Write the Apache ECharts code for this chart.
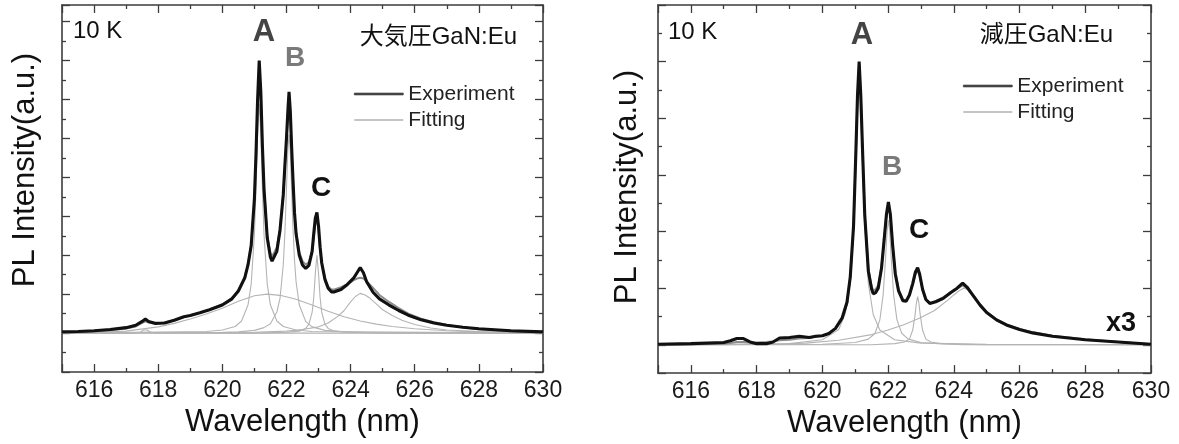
<!DOCTYPE html>
<html>
<head>
<meta charset="utf-8">
<script src="https://cdn.jsdelivr.net/npm/echarts@6/dist/echarts.min.js"></script>
<style>
  html, body { margin: 0; padding: 0; background: #fff; }
  #main { width: 1179px; height: 444px; }
</style>
</head>
<body>
<div id="main"></div>
<script>
// 左: 大気圧GaN:Eu  (PL スペクトル, 10 K)
var leftX = [615, 615.5, 616, 616.5, 617, 617.3, 617.5, 617.6, 617.7, 617.9,
  618.2, 618.5, 618.8, 619, 619.3, 619.6, 620, 620.3, 620.5, 620.7,
  620.8, 620.9, 621, 621.05, 621.1, 621.15, 621.2, 621.25, 621.3, 621.4,
  621.5, 621.55, 621.6, 621.7, 621.8, 621.9, 621.95, 622, 622.05, 622.08,
  622.12, 622.16, 622.2, 622.25, 622.3, 622.4, 622.5, 622.6, 622.7, 622.8,
  622.85, 622.9, 622.95, 623, 623.05, 623.1, 623.2, 623.3, 623.4, 623.5,
  623.7, 623.9, 624.1, 624.2, 624.3, 624.4, 624.5, 624.7, 624.9, 625.2,
  625.5, 625.8, 626.2, 626.6, 627, 627.5, 628, 629, 630];
var leftExp = [0.03, 0.04, 0.06, 0.09, 0.14, 0.2, 0.3, 0.36, 0.3, 0.25,
  0.26, 0.33, 0.42, 0.45, 0.52, 0.6, 0.72, 0.88, 1.08, 1.42,
  1.75, 2.25, 3.45, 4.6, 6.0, 7.0, 6.2, 4.8, 3.7, 2.45,
  1.95, 1.85, 1.87, 2.1, 2.65, 3.55, 4.3, 5.0, 5.8, 6.2,
  5.7, 4.8, 4.0, 3.1, 2.55, 2.0, 1.75, 1.66, 1.74, 2.1,
  2.55, 2.95, 3.1, 2.75, 2.2, 1.8, 1.38, 1.15, 1.06, 1.06,
  1.12, 1.25, 1.42, 1.55, 1.68, 1.55, 1.32, 1.05, 0.88, 0.72,
  0.58, 0.46, 0.34, 0.26, 0.2, 0.15, 0.11, 0.06, 0.03];
var leftFit = [0.02, 0.03, 0.05, 0.08, 0.12, 0.17, 0.26, 0.3, 0.27, 0.24,
  0.27, 0.33, 0.41, 0.45, 0.52, 0.6, 0.74, 0.9, 1.1, 1.45,
  1.75, 2.25, 3.4, 4.5, 5.9, 6.85, 6.1, 4.75, 3.7, 2.5,
  2.05, 1.97, 1.98, 2.2, 2.7, 3.55, 4.25, 4.95, 5.7, 6.05,
  5.6, 4.75, 3.95, 3.1, 2.6, 2.08, 1.85, 1.76, 1.82, 2.1,
  2.45, 2.8, 2.95, 2.65, 2.15, 1.8, 1.4, 1.2, 1.12, 1.12,
  1.18, 1.26, 1.36, 1.4, 1.42, 1.4, 1.33, 1.16, 0.98, 0.8,
  0.64, 0.5, 0.37, 0.28, 0.21, 0.15, 0.1, 0.05, 0.02];

// 左: フィッティング成分
var leftAX = [615, 619.5, 620, 620.4, 620.6, 620.8, 620.9, 621, 621.05, 621.1, 621.15,
  621.2, 621.25, 621.3, 621.4, 621.5, 621.7, 621.9, 622.3, 622.8, 630];
var leftAY = [0, 0.04, 0.08, 0.17, 0.31, 0.72, 1.26, 2.53, 3.71, 5.14, 5.9,
  5.14, 3.71, 2.53, 1.26, 0.72, 0.31, 0.17, 0.08, 0.04, 0];
var leftBX = [615, 620, 620.5, 621, 621.3, 621.5, 621.7, 621.8, 621.9, 621.95, 622, 622.04, 622.08,
  622.12, 622.16, 622.2, 622.25, 622.3, 622.4, 622.6, 622.8, 623.2, 623.8, 624.5, 630];
var leftBY = [0, 0.02, 0.03, 0.07, 0.14, 0.24, 0.54, 0.9, 1.75, 2.55, 3.7, 4.66, 5.1,
  4.66, 3.7, 2.75, 1.88, 1.32, 0.72, 0.3, 0.16, 0.07, 0.03, 0.015, 0];
var leftCX = [615, 621, 622, 622.4, 622.6, 622.7, 622.8, 622.85, 622.9, 622.95,
  623, 623.05, 623.1, 623.2, 623.3, 623.5, 624, 625, 630];
var leftCY = [0, 0, 0.02, 0.05, 0.12, 0.23, 0.53, 0.9, 1.53, 2.0,
  1.53, 0.9, 0.53, 0.23, 0.12, 0.05, 0.02, 0, 0];
var leftBroadX = [615, 617, 618, 618.5, 619, 619.5, 620, 620.5, 621, 621.4, 621.8,
  622.3, 622.8, 623.3, 623.8, 624.3, 624.8, 625.3, 626, 627, 628, 630];
var leftBroadY = [0, 0.05, 0.16, 0.25, 0.36, 0.49, 0.64, 0.82, 0.96, 1.0, 0.97,
  0.87, 0.72, 0.56, 0.42, 0.31, 0.23, 0.17, 0.11, 0.06, 0.03, 0.01];
var leftDX = [615, 621, 622, 622.5, 623, 623.3, 623.6, 623.8, 624, 624.15, 624.3, 624.45,
  624.6, 624.8, 625, 625.3, 625.6, 626, 626.5, 627, 628, 629, 630];
var leftDY = [0, 0.02, 0.05, 0.09, 0.16, 0.26, 0.43, 0.58, 0.8, 0.94, 1.02, 0.98,
  0.9, 0.75, 0.6, 0.45, 0.33, 0.22, 0.13, 0.08, 0.04, 0.02, 0.01];
var leftSmallX = [615, 617.3, 617.45, 617.55, 617.6, 617.65, 617.75, 617.9, 630];
var leftSmallY = [0, 0, 0.03, 0.08, 0.1, 0.08, 0.03, 0, 0];

// 右: 減圧GaN:Eu
var rightX = [615, 616, 617, 617.2, 617.4, 617.6, 617.8, 618, 618.3, 618.5,
  618.7, 619, 619.3, 619.6, 619.8, 620, 620.2, 620.4, 620.6, 620.75,
  620.85, 620.95, 621.02, 621.07, 621.12, 621.17, 621.22, 621.29, 621.4, 621.5,
  621.55, 621.62, 621.7, 621.8, 621.88, 621.95, 622.01, 622.07, 622.14, 622.22,
  622.32, 622.45, 622.55, 622.65, 622.75, 622.83, 622.9, 622.96, 623.05, 623.15,
  623.27, 623.45, 623.68, 623.9, 624.1, 624.27, 624.4, 624.6, 624.8, 625,
  625.3, 625.6, 626, 626.4, 627, 628, 629, 630];
var rightExp = [0.01, 0.02, 0.04, 0.07, 0.11, 0.11, 0.05, 0.02, 0.02, 0.05,
  0.12, 0.13, 0.15, 0.13, 0.15, 0.16, 0.2, 0.29, 0.47, 0.75,
  1.2, 2.1, 3.4, 4.4, 5.0, 4.4, 3.5, 2.3, 1.3, 0.98,
  0.9, 0.92, 1.0, 1.35, 1.85, 2.3, 2.52, 2.3, 1.75, 1.25,
  0.95, 0.78, 0.77, 0.88, 1.08, 1.28, 1.36, 1.25, 0.98, 0.8,
  0.73, 0.76, 0.82, 0.92, 1.0, 1.09, 1.02, 0.86, 0.7, 0.57,
  0.44, 0.35, 0.27, 0.21, 0.15, 0.09, 0.05, 0.01];
var rightFit = [0.0, 0.01, 0.02, 0.03, 0.05, 0.05, 0.04, 0.04, 0.05, 0.06,
  0.08, 0.09, 0.11, 0.12, 0.14, 0.16, 0.2, 0.28, 0.45, 0.72,
  1.18, 2.1, 3.38, 4.35, 4.95, 4.4, 3.45, 2.3, 1.35, 1.03,
  0.96, 0.98, 1.05, 1.38, 1.85, 2.28, 2.48, 2.28, 1.75, 1.28,
  0.98, 0.8, 0.78, 0.87, 1.06, 1.24, 1.32, 1.22, 0.97, 0.8,
  0.74, 0.77, 0.84, 0.92, 0.99, 1.05, 1.0, 0.87, 0.71, 0.58,
  0.45, 0.36, 0.28, 0.22, 0.16, 0.1, 0.05, 0.01];

var rightAX = [615, 619, 620, 620.5, 620.7, 620.85, 620.95, 621.02, 621.07, 621.12,
  621.17, 621.22, 621.29, 621.4, 621.55, 621.75, 622.2, 623, 625, 630];
var rightAY = [0, 0.02, 0.09, 0.27, 0.55, 1.14, 2.12, 3.36, 4.37, 4.85,
  4.37, 3.36, 2.12, 1.08, 0.53, 0.26, 0.09, 0.03, 0.01, 0];
var rightBX = [615, 620, 621, 621.4, 621.6, 621.75, 621.85, 621.92, 621.97, 622.01,
  622.05, 622.1, 622.17, 622.27, 622.42, 622.62, 623, 623.5, 625, 630];
var rightBY = [0, 0.01, 0.04, 0.1, 0.2, 0.44, 0.88, 1.49, 2.01, 2.2,
  2.01, 1.49, 0.88, 0.44, 0.2, 0.1, 0.04, 0.02, 0, 0];
var rightCX = [615, 621.5, 622.2, 622.5, 622.65, 622.75, 622.82, 622.86, 622.9,
  622.94, 622.98, 623.05, 623.15, 623.3, 623.6, 624.3, 630];
var rightCY = [0, 0, 0.02, 0.05, 0.1, 0.26, 0.52, 0.73, 0.85,
  0.73, 0.52, 0.26, 0.1, 0.05, 0.02, 0, 0];
var rightDX = [615, 617, 618.5, 619.5, 620.5, 621.5, 622, 622.5, 623, 623.4, 623.8, 624, 624.15,
  624.3, 624.45, 624.6, 624.8, 625, 625.3, 625.6, 626, 626.5, 627, 628, 629, 630];
var rightDY = [0, 0, 0.01, 0.03, 0.08, 0.18, 0.26, 0.36, 0.48, 0.6, 0.78, 0.88, 0.95,
  1.0, 0.97, 0.86, 0.68, 0.55, 0.42, 0.34, 0.27, 0.2, 0.15, 0.09, 0.05, 0.01];

var FONT = '"Liberation Sans", Arial, Helvetica, sans-serif';
var FONT_JP = '"Liberation Sans", Arial, "Noto Sans CJK JP", sans-serif';
var FRAME = '#3c3c3c';

function zip(xs, ys) {
    return xs.map(function(x, i) { return [x, ys[i]]; });
}

// 曲線 (symbol無しの折れ線)
function curve(name, xs, ys, gi, color, width) {
    return {
        name: name,
        type: 'line',
        xAxisIndex: gi * 2,
        yAxisIndex: gi * 2,
        data: zip(xs, ys),
        symbol: 'none',
        silent: true,
        lineStyle: { color: color, width: width },
        itemStyle: { color: color },
        emphasis: { disabled: true },
        z: width > 2 ? 5 : 3
    };
}

function xAxisOf(gi, pos) {
    var bottom = pos === 'bottom';
    return {
        type: 'value',
        gridIndex: gi,
        position: pos,
        min: 615,
        max: 630,
        splitNumber: 7,
        axisLine: { show: true, onZero: false, lineStyle: { color: FRAME, width: 1.6 } },
        axisTick: { show: true, inside: true, length: 8, lineStyle: { color: FRAME, width: 1.3 } },
        minorTick: { show: true, splitNumber: 2, length: 4, lineStyle: { color: FRAME, width: 1.3 } },
        splitLine: { show: false },
        axisLabel: {
            show: bottom,
            fontSize: 23,
            fontFamily: FONT,
            color: '#1a1a1a',
            margin: 7,
            formatter: function(v) { return v % 2 === 0 ? String(v) : ''; }
        },
        name: bottom ? 'Wavelength (nm)' : '',
        nameLocation: 'middle',
        nameGap: 29,
        nameTextStyle: { fontSize: 31, fontFamily: FONT, color: '#111' }
    };
}

function yAxisOf(gi, pos, range) {
    var ax = {
        type: 'value',
        gridIndex: gi,
        position: pos,
        min: range[0],
        max: range[1],
        axisLine: { show: true, onZero: false, lineStyle: { color: FRAME, width: 1.6 } },
        axisTick: { show: true, inside: true, length: 8, lineStyle: { color: FRAME, width: 1.3 } },
        minorTick: { show: true, splitNumber: 2, length: 4, lineStyle: { color: FRAME, width: 1.3 } },
        splitLine: { show: false },
        axisLabel: { show: false }
    };
    if (range[2]) ax.interval = range[2]; else ax.splitNumber = 7;
    return ax;
}

function label(text, x, y, size, color, bold, align, font) {
    return {
        type: 'text',
        x: x,
        y: y,
        silent: true,
        style: {
            text: text,
            fill: color,
            fontSize: size,
            fontWeight: bold ? 'bold' : 'normal',
            fontFamily: font || FONT,
            align: align || 'center',
            verticalAlign: 'middle'
        }
    };
}

function yName(x, y) {
    return {
        type: 'text',
        x: x,
        y: y,
        rotation: Math.PI / 2,
        silent: true,
        style: {
            text: 'PL Intensity(a.u.)',
            fill: '#111',
            fontSize: 31,
            fontFamily: FONT,
            align: 'center',
            verticalAlign: 'middle'
        }
    };
}

// 凡例: 線だけ (rect を細くして線に見せる)
function legendOf(left, top) {
    return {
        left: left,
        top: top,
        orient: 'vertical',
        icon: 'rect',
        itemWidth: 49,
        itemHeight: 2,
        itemGap: 4,
        selectedMode: false,
        textStyle: { fontSize: 21, lineHeight: 22, fontFamily: FONT, color: '#222' },
        data: [
            { name: 'Experiment', itemStyle: { color: '#444', borderWidth: 0.6, borderColor: '#444' } },
            { name: 'Fitting', itemStyle: { color: '#c4c4c4', borderWidth: 0 } }
        ]
    };
}

var COMP = '#b4b4b4';
var FIT = '#8c8c8c';
var EXP = '#111';

var series = [
    curve('Fitting', leftSmallX, leftSmallY, 0, COMP, 1.1),
    curve('Fitting', leftBroadX, leftBroadY, 0, COMP, 1.1),
    curve('Fitting', leftDX, leftDY, 0, COMP, 1.1),
    curve('Fitting', leftAX, leftAY, 0, COMP, 1.1),
    curve('Fitting', leftBX, leftBY, 0, COMP, 1.1),
    curve('Fitting', leftCX, leftCY, 0, COMP, 1.1),
    curve('Fitting', leftX, leftFit, 0, FIT, 2),
    curve('Experiment', leftX, leftExp, 0, EXP, 3.1),
    curve('Fitting', rightDX, rightDY, 1, COMP, 1.1),
    curve('Fitting', rightAX, rightAY, 1, COMP, 1.1),
    curve('Fitting', rightBX, rightBY, 1, COMP, 1.1),
    curve('Fitting', rightCX, rightCY, 1, COMP, 1.1),
    curve('Fitting', rightX, rightFit, 1, FIT, 2),
    curve('Experiment', rightX, rightExp, 1, EXP, 3.1)
];

var chart = echarts.init(document.getElementById('main'), null, { renderer: 'canvas' });
chart.setOption({
    animation: false,
    backgroundColor: '#fff',
    textStyle: { fontFamily: FONT },
    grid: [
        { left: 62, top: 5, width: 481, height: 367 },
        { left: 658, top: 5, width: 493, height: 374 }
    ],
    xAxis: [xAxisOf(0, 'bottom'), xAxisOf(0, 'top'), xAxisOf(1, 'bottom'), xAxisOf(1, 'top')],
    yAxis: [
        yAxisOf(0, 'left', [-1, 8.43, 1]),
        yAxisOf(0, 'right', [-1, 8.43, 1]),
        yAxisOf(1, 'left', [-0.5, 6]),
        yAxisOf(1, 'right', [-0.5, 6])
    ],
    legend: [legendOf(349, 78), legendOf(958, 70)],
    series: series,
    graphic: [
        yName(25, 170),
        label('10 K', 73, 31, 24, '#111', false, 'left'),
        label('A', 264, 32, 31, '#444', true),
        label('B', 295, 58, 28, '#7a7a7a', true),
        label('C', 321, 188, 28, '#111', true),
        label('大気圧GaN:Eu', 517, 37, 24, '#111', false, 'right', FONT_JP),
        yName(627, 187),
        label('10 K', 668, 32, 24, '#111', false, 'left'),
        label('A', 862, 35, 31, '#444', true),
        label('B', 892, 167, 28, '#7a7a7a', true),
        label('C', 919, 230, 28, '#111', true),
        label('x3', 1121, 324, 27, '#111', true),
        label('減圧GaN:Eu', 1113, 35, 24, '#111', false, 'right', FONT_JP)
    ]
});
</script>
</body>
</html>
